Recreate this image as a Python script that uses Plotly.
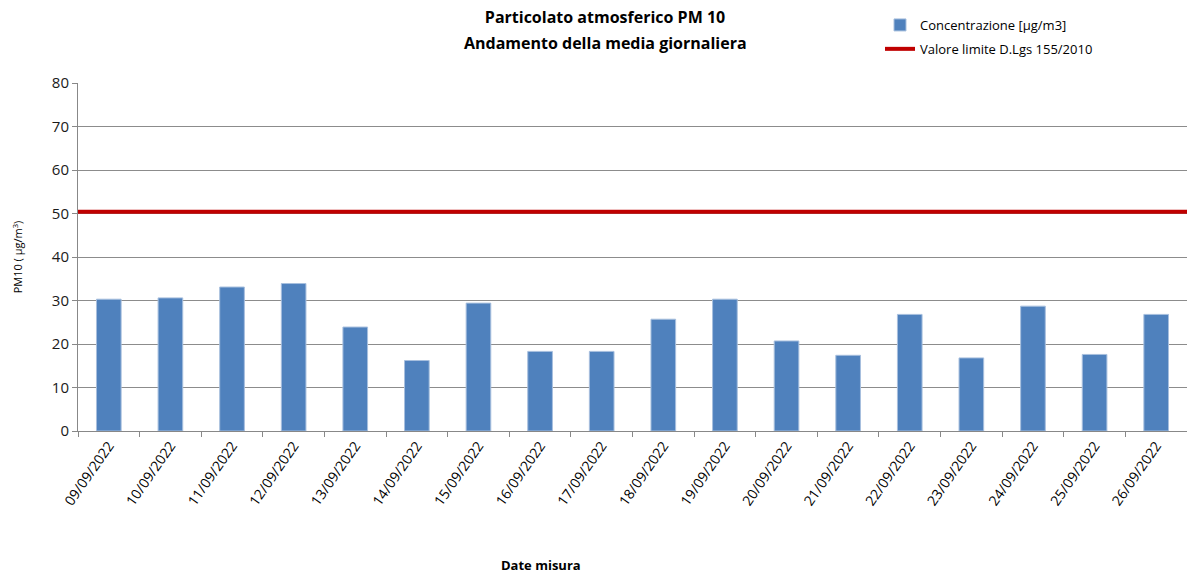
import plotly.graph_objects as go

dates = ["09/09/2022", "10/09/2022", "11/09/2022", "12/09/2022", "13/09/2022",
         "14/09/2022", "15/09/2022", "16/09/2022", "17/09/2022", "18/09/2022",
         "19/09/2022", "20/09/2022", "21/09/2022", "22/09/2022", "23/09/2022",
         "24/09/2022", "25/09/2022", "26/09/2022"]
concentrazione = [30.3, 30.6, 33.1, 33.9, 23.9, 16.2, 29.4, 18.3, 18.3, 25.7,
                  30.3, 20.7, 17.4, 26.8, 16.8, 28.7, 17.6, 26.8]
limite_x = list(range(len(dates)))
limite = [50.4] * len(dates)
title_lines = ["Particolato atmosferico PM 10", "Andamento della media giornaliera"]
x_title = "Date misura"

FONT = "Open Sans"
fig = go.Figure()
fig.add_trace(go.Bar(
    x=dates, y=concentrazione, name="Concentrazione [µg/m3]",
    marker=dict(color="#4F81BD", line=dict(color="#A7BFDE", width=1)),
    width=0.4, legendgroup="a",
))
fig.add_trace(go.Scatter(
    x=limite_x, y=limite, xaxis="x2", mode="lines",
    name="Valore limite D.Lgs 155/2010",
    line=dict(color="#C00000", width=4), legendgroup="b",
))

fig.update_layout(
    width=1187, height=573,
    margin=dict(l=78, r=0, t=83, b=142, autoexpand=False),
    paper_bgcolor="white", plot_bgcolor="white",
    font=dict(family=FONT, color="#000000"),
    title=dict(
        text="<b>" + title_lines[0] + "</b>",
        x=605 / 1187, xref="container", xanchor="center",
        y=1 - 17 / 573, yref="container", yanchor="middle",
        font=dict(size=16, family=FONT, color="#000000"),
    ),
    annotations=[
        dict(
            text="<b>" + title_lines[1] + "</b>", showarrow=False,
            x=(605 - 78) / 1109, xref="paper", xanchor="center",
            y=1 + (83 - 43) / 348, yref="paper", yanchor="middle",
            font=dict(size=16, family=FONT, color="#000000"),
        ),
        dict(
            text="<b>" + x_title + "</b>", showarrow=False,
            x=(541 - 78) / 1109, xref="paper", xanchor="center",
            y=(431 - 565) / 348, yref="paper", yanchor="middle",
            font=dict(size=13, family=FONT, color="#000000"),
        ),
    ],
    showlegend=True,
    legend=dict(
        x=880 / 1187, xref="container", xanchor="left",
        y=1 - 10 / 573, yref="container", yanchor="top",
        font=dict(size=13, family=FONT, color="#000000"),
        bgcolor="rgba(0,0,0,0)", tracegroupgap=4, itemwidth=30,
    ),
    bargap=0.6,
    xaxis=dict(
        type="category", tickson="boundaries", ticks="outside", ticklen=5,
        tickcolor="#888888", showline=True, linecolor="#888888", linewidth=1,
        showgrid=False, tickangle=-55,
        tickfont=dict(size=14, family=FONT, color="#000000"),
        automargin=False,
    ),
    xaxis2=dict(
        overlaying="x", range=[0, len(dates) - 1], visible=False,
        showgrid=False,
    ),
    yaxis=dict(
        range=[0, 80], dtick=10, ticks="outside", ticklen=5,
        tickcolor="#888888", showline=True, linecolor="#888888", linewidth=1,
        showgrid=True, gridcolor="#8C8C8C", gridwidth=1, zeroline=False,
        tickfont=dict(size=15, family=FONT, color="#1A1A1A"),
        title=dict(text="PM10 ( µg/m<sup>3</sup>)", font=dict(size=11, family=FONT),
                   standoff=26),
        automargin=False,
    ),
)

fig.write_html("out.html", config={"displayModeBar": False},
               post_script="document.body.style.margin='0';window.dispatchEvent(new Event('resize'));")
